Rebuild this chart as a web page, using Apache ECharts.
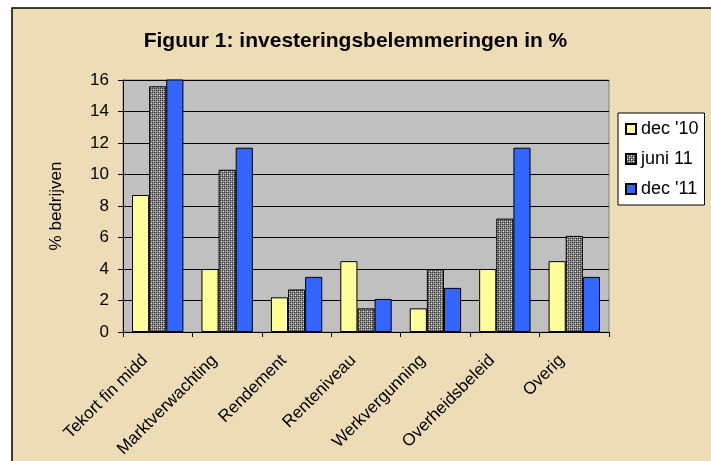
<!DOCTYPE html>
<html>
<head>
<meta charset="utf-8">
<script src="https://cdn.jsdelivr.net/npm/echarts@6/dist/echarts.min.js"></script>
<style>
  html, body { margin: 0; padding: 0; background: #fff; }
  #chart { width: 711px; height: 461px; }
</style>
</head>
<body>
<div id="chart"></div>
<script>
// categories and values (% bedrijven)
var categories = ["Tekort fin midd", "Marktverwachting", "Rendement", "Renteniveau",
    "Werkvergunning", "Overheidsbeleid", "Overig"];
var dec10 = [8.7, 4.0, 2.2, 4.5, 1.5, 4.0, 4.5];
var juni11 = [15.6, 10.3, 2.7, 1.5, 4.0, 7.2, 6.1];
var dec11 = [16.1, 11.7, 3.5, 2.1, 2.8, 11.7, 3.5];
var seriesNames = ["dec '10", "juni 11", "dec '11"];
var yTicks = [0, 2, 4, 6, 8, 10, 12, 14, 16];

// small checkered fill for "juni 11"
function makePattern() {
    var c = document.createElement('canvas');
    c.width = 4; c.height = 4;
    var ctx = c.getContext('2d');
    ctx.fillStyle = '#8a8a8a';
    ctx.fillRect(0, 0, 4, 4);
    ctx.fillStyle = '#e0e0e0';
    ctx.fillRect(1, 1, 1, 1);
    ctx.fillRect(3, 3, 1, 1);
    ctx.fillStyle = '#303030';
    ctx.fillRect(0, 0, 1, 1);
    ctx.fillRect(2, 2, 1, 1);
    ctx.fillRect(2, 0, 1, 1);
    ctx.fillRect(0, 2, 1, 1);
    return c;
}

var myChart = echarts.init(document.getElementById('chart'));
var font = 'Arial, "Liberation Sans", sans-serif';
var barStyle = { borderColor: '#000', borderWidth: 1 };

var option = {
    animation: false,
    backgroundColor: '#fff',
    textStyle: { fontFamily: font, color: '#000' },
    graphic: [{
        type: 'rect',
        z: -100,
        shape: { x: 12, y: 8, width: 720, height: 470 },
        style: { fill: '#eddcb6', stroke: '#000', lineWidth: 1.5 }
    }],
    title: {
        text: 'Figuur 1: investeringsbelemmeringen in %',
        left: 'center',
        top: 26,
        textStyle: { fontFamily: font, fontSize: 21, fontWeight: 'bold', color: '#000' }
    },
    legend: {
        orient: 'vertical',
        left: 618,
        top: 113,
        backgroundColor: '#fff',
        borderColor: '#000',
        borderWidth: 1,
        padding: [7, 6, 7, 7],
        itemWidth: 10,
        itemHeight: 10,
        itemGap: 12,
        icon: 'rect',
        textStyle: { fontFamily: font, fontSize: 18, color: '#000' },
        data: seriesNames
    },
    grid: {
        left: 123, right: 102, top: 80, bottom: 129,
        show: true,
        backgroundColor: '#c0c0c0',
        borderColor: '#808080',
        borderWidth: 1
    },
    xAxis: {
        type: 'category',
        data: categories,
        axisLine: { lineStyle: { color: '#000', width: 1 } },
        axisTick: { show: true, length: 5, lineStyle: { color: '#000' } },
        axisLabel: {
            rotate: 45, fontSize: 17, fontFamily: font, color: '#000',
            margin: 13, padding: [0, 18, 0, 0], interval: 0
        }
    },
    yAxis: {
        type: 'value',
        min: yTicks[0],
        max: yTicks[yTicks.length - 1],
        interval: 2,
        name: '% bedrijven',
        nameLocation: 'middle',
        nameGap: 58,
        nameTextStyle: { fontFamily: font, fontSize: 17, color: '#000' },
        axisLine: { show: true, lineStyle: { color: '#000', width: 1 } },
        axisTick: { show: true, length: 5, lineStyle: { color: '#000' } },
        axisLabel: { fontSize: 17, fontFamily: font, color: '#000', margin: 14 },
        splitLine: { show: true, lineStyle: { color: '#000', width: 1 } }
    },
    series: [
        {
            name: seriesNames[0], type: 'bar', data: dec10,
            barGap: '0%', barCategoryGap: '26%',
            itemStyle: Object.assign({ color: '#ffff99' }, barStyle)
        },
        {
            name: seriesNames[1], type: 'bar', data: juni11,
            itemStyle: Object.assign({ color: { image: makePattern(), repeat: 'repeat' } }, barStyle)
        },
        {
            name: seriesNames[2], type: 'bar', data: dec11,
            itemStyle: Object.assign({ color: '#3366ff' }, barStyle)
        }
    ]
};
myChart.setOption(option);
</script>
</body>
</html>
